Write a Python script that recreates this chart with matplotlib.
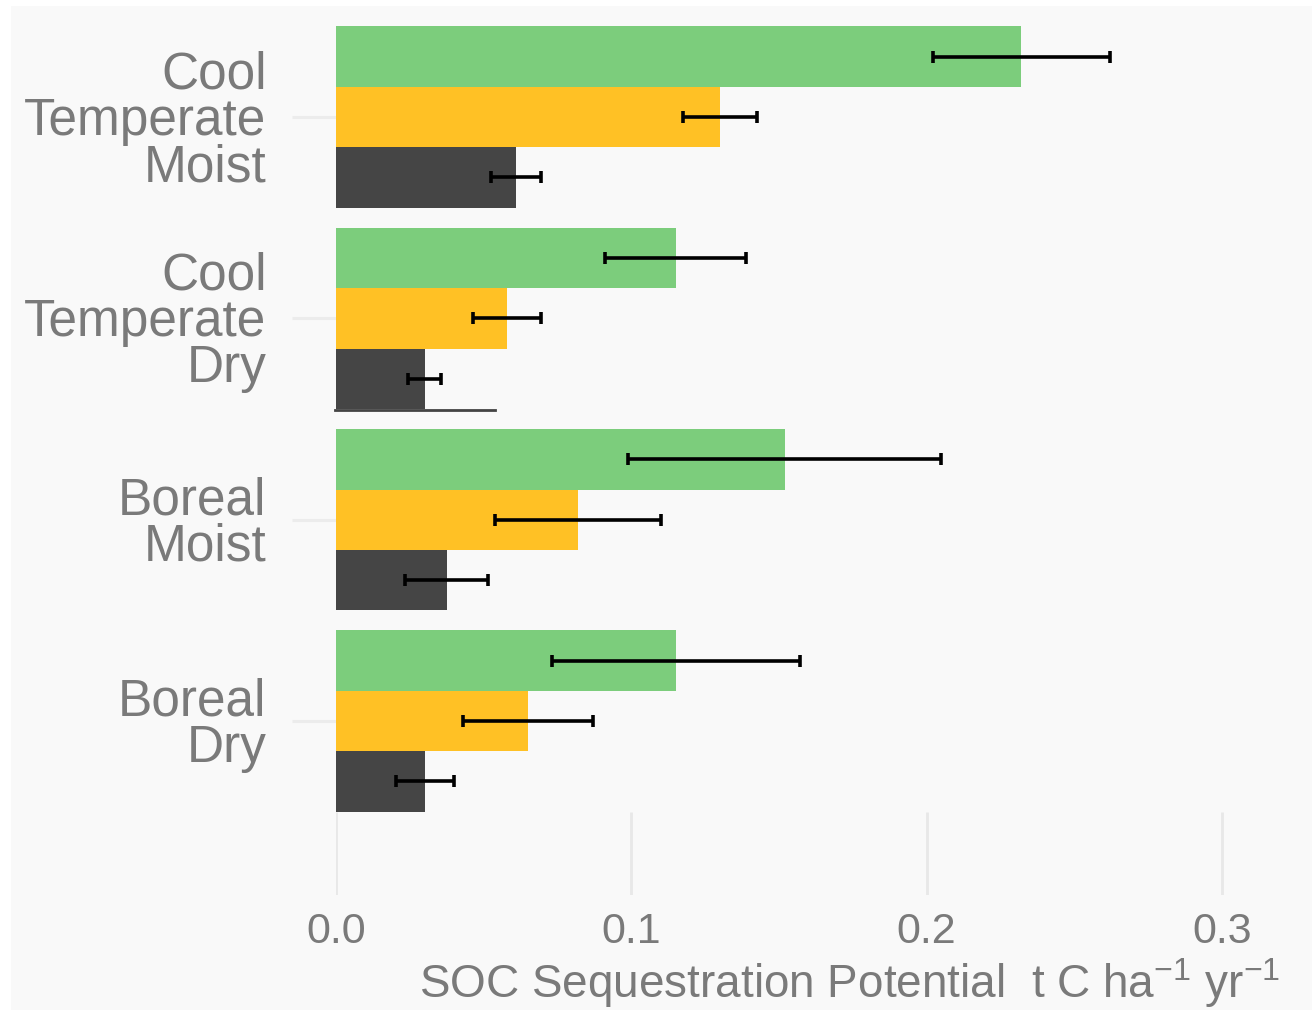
import matplotlib
matplotlib.use("Agg")
import matplotlib.pyplot as plt
from matplotlib.lines import Line2D
from matplotlib.patches import Rectangle
import numpy as np

plt.rcParams['font.family'] = ['Liberation Sans', 'DejaVu Sans']
plt.rcParams['mathtext.fontset'] = 'custom'
plt.rcParams['mathtext.rm'] = 'Liberation Sans'
plt.rcParams['mathtext.it'] = 'Liberation Sans'

categories = ["Cool\nTemperate\nMoist", "Cool\nTemperate\nDry", "Boreal\nMoist", "Boreal\nDry"]
series_colors = ["#7CCD7C", "#FFC125", "#454545"]
values_green = [0.232, 0.115, 0.152, 0.115]
err_green = [0.030, 0.024, 0.053, 0.042]
values_orange = [0.130, 0.058, 0.082, 0.065]
err_orange = [0.0125, 0.0115, 0.028, 0.022]
values_dark = [0.061, 0.030, 0.0375, 0.030]
err_dark = [0.0085, 0.0055, 0.014, 0.0098]
xticks = [0.0, 0.1, 0.2, 0.3]
xticklabels = ["0.0", "0.1", "0.2", "0.3"]

W, H = 1312, 1010
fig = plt.figure(figsize=(W / 100, H / 100), dpi=100)
fig.patch.set_facecolor("white")
fig.patches.append(Rectangle((11 / W, 0), 1 - 11 / W, 1 - 6 / H, transform=fig.transFigure,
                             facecolor="#f9f9f9", edgecolor="none", zorder=-10))

xmax = 0.32
px_per_unit = 2953.0
left_px, top_px, bottom_px = 336, 20, 895
ax = fig.add_axes([left_px / W, 1 - bottom_px / H, xmax * px_per_unit / W, (bottom_px - top_px) / H])
ax.set_facecolor("none")

n = len(categories)
ypos = np.arange(n)[::-1].astype(float)
bh = 0.3
series = [(values_green, err_green), (values_orange, err_orange), (values_dark, err_dark)]
offsets = [bh, 0.0, -bh]
for (vals, errs), col, off in zip(series, series_colors, offsets):
    ax.barh(ypos + off, vals, height=bh, color=col, edgecolor="none", zorder=2)
    ax.errorbar(vals, ypos + off, xerr=errs, fmt="none", ecolor="black",
                elinewidth=2.6, capsize=4.5, capthick=2.6, zorder=3)

ax.set_xlim(0, xmax)
ax.set_ylim(-0.864, 3.482)

# vertical grid (visible only beneath the bars)
ax.vlines(xticks, -0.864, -0.45, colors="#e8e8e8", linewidth=2.0, zorder=1)

ax.set_xticks(xticks)
ax.set_xticklabels(xticklabels)
ax.set_yticks(ypos)
ax.set_yticklabels(categories, linespacing=0.93)
ax.tick_params(axis="x", length=0, pad=12, labelsize=31, labelcolor="#7a7a7a")
ax.tick_params(axis="y", length=32, width=2.2, color="#ececec", pad=18,
               labelsize=37, labelcolor="#7a7a7a")
for s in ax.spines.values():
    s.set_visible(False)

fig.text(850 / W, 1 - 983 / H, r"SOC Sequestration Potential  t C ha$^{-1}$ yr$^{-1}$",
         ha="center", va="center", fontsize=33, color="#7a7a7a")

# stitching line below second group
fig.add_artist(Line2D([335 / W, 495 / W], [1 - 410 / H, 1 - 410 / H], color="#444444",
                      linewidth=2.0, transform=fig.transFigure))

fig.savefig("out.png", dpi=100, facecolor=fig.get_facecolor())
